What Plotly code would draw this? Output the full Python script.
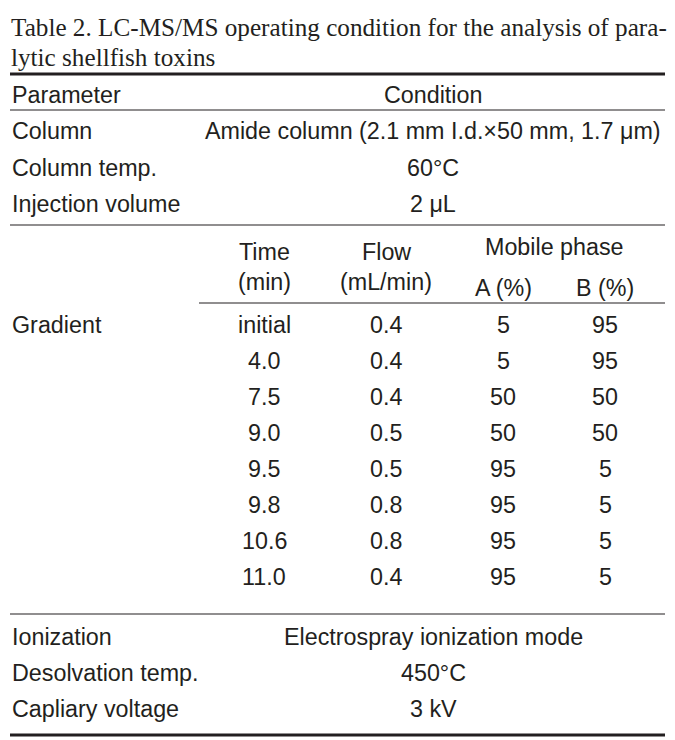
import plotly.graph_objects as go

# ---- data ----
title_lines = ["Table 2. LC-MS/MS operating condition for the analysis of para-",
               "lytic shellfish toxins"]
header = ["Parameter", "Condition"]
top_params = ["Column", "Column temp.", "Injection volume"]
top_values = ["Amide column (2.1 mm I.d.×50 mm, 1.7 μm)", "60°C", "2 μL"]
grad_label = "Gradient"
grad_headers = ["Time<br>(min)", "Flow<br>(mL/min)", "Mobile phase"]
phase_headers = ["A (%)", "B (%)"]
grad_time = ["initial", "4.0", "7.5", "9.0", "9.5", "9.8", "10.6", "11.0"]
grad_flow = ["0.4", "0.4", "0.4", "0.5", "0.5", "0.8", "0.8", "0.4"]
grad_a = ["5", "5", "50", "50", "95", "95", "95", "95"]
grad_b = ["95", "95", "50", "50", "5", "5", "5", "5"]
bottom_params = ["Ionization", "Desolvation temp.", "Capliary voltage"]
bottom_values = ["Electrospray ionization mode", "450°C", "3 kV"]

W, H = 675, 740
OFF = 8  # page body margin
TXT = "#231f20"
SANS = "Liberation Sans, Arial, sans-serif"
SERIF = "Liberation Serif, Times New Roman, serif"
FS = 23.3

fig = go.Figure()
fig.add_trace(go.Scatter(x=[OFF, W], y=[OFF, H], mode="markers",
                         marker=dict(opacity=0), hoverinfo="skip", showlegend=False))

ann = []
def t(x, y, s, anchor="center", font=SANS, size=FS):
    ann.append(dict(x=x, y=y, text=s, showarrow=False, xanchor=anchor, yanchor="middle",
                    font=dict(family=font, size=size, color=TXT), xref="x", yref="y"))

LEFT = 10
COND_X = 433
COLX = [264, 386, 503, 605]

# title
t(LEFT - 1, 27, title_lines[0], "left", SERIF, 25.2)
t(LEFT - 1, 57, title_lines[1], "left", SERIF, 25.2)

# header
t(LEFT, 95, header[0], "left")
t(COND_X, 95, header[1])

# top rows
for i, (p, v) in enumerate(zip(top_params, top_values)):
    y = 131 + i * 36.5
    t(LEFT, y, p, "left")
    t(COND_X, y, v)

# gradient headers
t(COLX[0], 252, grad_headers[0].split("<br>")[0])
t(COLX[0], 282, grad_headers[0].split("<br>")[1])
t(COLX[1], 252, grad_headers[1].split("<br>")[0])
t(COLX[1], 282, grad_headers[1].split("<br>")[1])
t((COLX[2] + COLX[3]) / 2, 247, grad_headers[2])
t(COLX[2], 288, phase_headers[0])
t(COLX[3], 288, phase_headers[1])

# gradient rows
t(LEFT, 325, grad_label, "left")
for i in range(len(grad_time)):
    y = 325 + i * 36
    t(COLX[0], y, grad_time[i])
    t(COLX[1], y, grad_flow[i])
    t(COLX[2], y, grad_a[i])
    t(COLX[3], y, grad_b[i])

# bottom rows
for i, (p, v) in enumerate(zip(bottom_params, bottom_values)):
    y = 637 + i * 36
    t(LEFT, y, p, "left")
    t(COND_X, y, v)

shapes = []
def hline(y, x0=10, x1=665, w=1.2):
    shapes.append(dict(type="line", x0=x0, x1=x1, y0=y, y1=y, xref="x", yref="y",
                       line=dict(color="#231f20", width=w)))

hline(74, w=3)
hline(110)
hline(225)
hline(303, x0=199)
hline(614)
hline(735, w=3)

fig.update_layout(
    width=W - OFF, height=H - OFF, margin=dict(l=0, r=0, t=0, b=0),
    paper_bgcolor="white", plot_bgcolor="white",
    xaxis=dict(range=[OFF, W], visible=False, fixedrange=True),
    yaxis=dict(range=[H, OFF], visible=False, fixedrange=True),
    annotations=ann, shapes=shapes,
)
fig.write_html("out.html")
